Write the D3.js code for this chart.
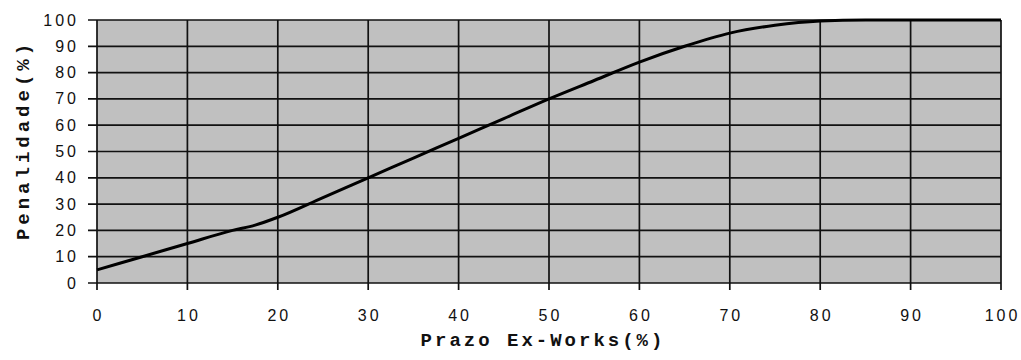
<!DOCTYPE html>
<html>
<head>
<meta charset="utf-8">
<script src="https://cdn.jsdelivr.net/npm/d3@7"></script>
<style>
  body { margin: 0; background: #fff; }
</style>
</head>
<body>
<svg width="1021" height="360"></svg>
<script>
// Penalidade x Prazo Ex-Works chart

var prazo = [0, 5, 10, 15, 17.5, 20, 25, 30, 35, 40, 45, 50, 55, 60, 65, 70, 75, 80, 85, 90, 95, 100];
var penalidade = [5, 10, 15, 20, 22, 25, 32.5, 40, 47.5, 55, 62.5, 70, 77, 84, 90, 95, 98, 99.6, 100, 100, 100, 100];
var xTicks = [0, 10, 20, 30, 40, 50, 60, 70, 80, 90, 100];
var yTicks = [0, 10, 20, 30, 40, 50, 60, 70, 80, 90, 100];
var xTitle = "Prazo Ex-Works(%)";
var yTitle = "Penalidade(%)";

// note: "top" is taken by window.top, so plot edges get their own names
var svg = d3.select("svg"),
    plotLeft = 97,
    plotRight = 1001,
    plotTop = 20,
    plotBottom = 283;

var x = d3.scaleLinear().domain([0, 100]).range([plotLeft, plotRight]);
var y = d3.scaleLinear().domain([0, 100]).range([plotBottom, plotTop]);

// grey plot area
svg.append("rect")
    .attr("x", plotLeft)
    .attr("y", plotTop)
    .attr("width", plotRight - plotLeft)
    .attr("height", plotBottom - plotTop)
    .attr("fill", "#c0c0c0");

// grid lines + ticks
svg.selectAll(".vgrid")
    .data(xTicks)
    .enter().append("line")
    .attr("class", "vgrid")
    .attr("x1", function(d) { return x(d); })
    .attr("x2", function(d) { return x(d); })
    .attr("y1", plotTop)
    .attr("y2", plotBottom + 7)
    .attr("stroke", "#111")
    .attr("stroke-width", 1.7);

svg.selectAll(".hgrid")
    .data(yTicks)
    .enter().append("line")
    .attr("class", "hgrid")
    .attr("x1", plotLeft - 9)
    .attr("x2", plotRight)
    .attr("y1", function(d) { return y(d); })
    .attr("y2", function(d) { return y(d); })
    .attr("stroke", "#111")
    .attr("stroke-width", 1.7);

// tick labels
svg.selectAll(".xlab")
    .data(xTicks)
    .enter().append("text")
    .attr("class", "xlab")
    .attr("x", function(d) { return x(d) + 1.5; })
    .attr("y", 321)
    .attr("text-anchor", "middle")
    .style("font-family", "'Liberation Sans', Arial, sans-serif")
    .style("font-size", "16px")
    .style("letter-spacing", "3px")
    .style("fill", "#111")
    .text(function(d) { return d; });

svg.selectAll(".ylab")
    .data(yTicks)
    .enter().append("text")
    .attr("class", "ylab")
    .attr("x", 79)
    .attr("y", function(d) { return y(d) + 5.5; })
    .attr("text-anchor", "end")
    .style("font-family", "'Liberation Sans', Arial, sans-serif")
    .style("font-size", "16px")
    .style("letter-spacing", "3px")
    .style("fill", "#111")
    .text(function(d) { return d; });

// the curve
var line = d3.line()
    .x(function(d, i) { return x(prazo[i]); })
    .y(function(d) { return y(d); })
    .curve(d3.curveMonotoneX);

svg.append("path")
    .datum(penalidade)
    .attr("d", line)
    .attr("fill", "none")
    .attr("stroke", "#000")
    .attr("stroke-width", 3);

// axis titles
svg.append("text")
    .attr("x", 543)
    .attr("y", 346)
    .attr("text-anchor", "middle")
    .style("font-family", "'Liberation Mono', 'Courier New', monospace")
    .style("font-weight", "bold")
    .style("font-size", "19px")
    .style("letter-spacing", "3px")
    .style("fill", "#111")
    .text(xTitle);

svg.append("text")
    .attr("transform", "translate(29,140) rotate(-90)")
    .attr("text-anchor", "middle")
    .style("font-family", "'Liberation Mono', 'Courier New', monospace")
    .style("font-weight", "bold")
    .style("font-size", "19px")
    .style("letter-spacing", "4px")
    .style("fill", "#111")
    .text(yTitle);
</script>
</body>
</html>
